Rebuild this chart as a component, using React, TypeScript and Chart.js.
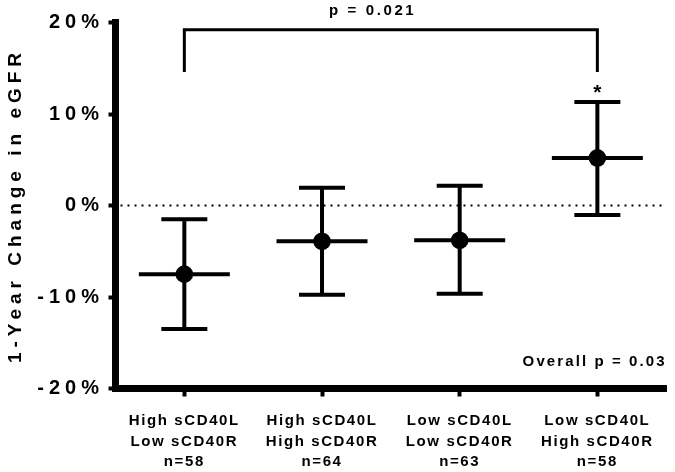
import React, { useEffect, useRef } from 'react';
import { Chart, registerables } from 'chart.js';

Chart.register(...registerables);

// ---- data ----
const categories: string[][] = [
  ['High sCD40L', 'Low sCD40R', 'n=58'],
  ['High sCD40L', 'High sCD40R', 'n=64'],
  ['Low sCD40L', 'Low sCD40R', 'n=63'],
  ['Low sCD40L', 'High sCD40R', 'n=58'],
];
const meanChange = [-7.5, -3.9, -3.8, 5.2];
const lowerBound = [-13.5, -9.75, -9.65, -1.05];
const upperBound = [-1.5, 1.95, 2.15, 11.3];
const yTickValues = [-20, -10, 0, 10, 20];
const yTitle = '1-Year Change in eGFR';
const bracketLabel = 'p = 0.021';
const starLabel = '*';
const overallLabel = 'Overall p = 0.03';

const FONT = "'Liberation Sans', Arial, Helvetica, sans-serif";

const annotations = {
  id: 'annotations',
  beforeDraw(chart: any) {
    chart.ctx.letterSpacing = '5px';
  },
  beforeDatasetsDraw(chart: any) {
    const { ctx, chartArea, scales } = chart;
    const x = scales.x;
    const y = scales.y;
    // dotted zero line
    ctx.save();
    ctx.strokeStyle = '#000';
    ctx.lineWidth = 2;
    ctx.setLineDash([2, 5]);
    const y0 = y.getPixelForValue(0);
    ctx.beginPath();
    ctx.moveTo(chartArea.left + 5, y0);
    ctx.lineTo(chartArea.right, y0);
    ctx.stroke();
    ctx.restore();
    // error bars + mean lines
    ctx.save();
    ctx.strokeStyle = '#000';
    ctx.lineWidth = 4;
    ctx.lineCap = 'butt';
    meanChange.forEach((m, i) => {
      const px = x.getPixelForValue(i);
      const yl = y.getPixelForValue(lowerBound[i]);
      const yu = y.getPixelForValue(upperBound[i]);
      const ym = y.getPixelForValue(m);
      ctx.beginPath();
      ctx.moveTo(px, yl);
      ctx.lineTo(px, yu);
      ctx.moveTo(px - 23, yl);
      ctx.lineTo(px + 23, yl);
      ctx.moveTo(px - 23, yu);
      ctx.lineTo(px + 23, yu);
      ctx.moveTo(px - 45.5, ym);
      ctx.lineTo(px + 45.5, ym);
      ctx.stroke();
    });
    ctx.restore();
  },
  afterDatasetsDraw(chart: any) {
    // x-axis labels (drawn after datasets, z = 1) use a tighter letter spacing
    chart.ctx.letterSpacing = '1.6px';
  },
  afterDraw(chart: any) {
    const { ctx, chartArea, scales } = chart;
    const x = scales.x;
    const y = scales.y;
    ctx.save();
    // bracket
    const xa = x.getPixelForValue(0);
    const xb = x.getPixelForValue(3);
    const yTop = y.getPixelForValue(19.2);
    const yEnd = y.getPixelForValue(14.6);
    ctx.strokeStyle = '#000';
    ctx.lineWidth = 3;
    ctx.lineCap = 'butt';
    ctx.lineJoin = 'miter';
    ctx.beginPath();
    ctx.moveTo(xa, yEnd);
    ctx.lineTo(xa, yTop);
    ctx.lineTo(xb, yTop);
    ctx.lineTo(xb, yEnd);
    ctx.stroke();

    ctx.fillStyle = '#000';
    ctx.font = `bold 15px ${FONT}`;
    ctx.textBaseline = 'alphabetic';
    // bracket label
    ctx.letterSpacing = '2.6px';
    ctx.textAlign = 'center';
    ctx.fillText(bracketLabel, x.getPixelForValue(1.368), y.getPixelForValue(20.82));
    // asterisk
    ctx.letterSpacing = '0px';
    ctx.font = `bold 21px ${FONT}`;
    ctx.fillText(starLabel, xb, y.getPixelForValue(11.6));
    // overall p
    ctx.font = `bold 15px ${FONT}`;
    ctx.letterSpacing = '2.1px';
    ctx.textAlign = 'right';
    ctx.fillText(overallLabel, chartArea.right + 0.5, y.getPixelForValue(-17.54));
    ctx.restore();
    ctx.letterSpacing = '0px';
  },
};

export default function App() {
  const canvasRef = useRef<HTMLCanvasElement | null>(null);

  useEffect(() => {
    const canvas = canvasRef.current;
    if (!canvas) return;
    const chart = new Chart(canvas, {
      type: 'line',
      data: {
        labels: categories,
        datasets: [
          {
            data: meanChange,
            showLine: false,
            pointRadius: 8.8,
            pointHoverRadius: 8.8,
            pointBackgroundColor: '#000',
            pointBorderColor: '#000',
            pointBorderWidth: 0,
            clip: false as any,
          },
        ],
      },
      options: {
        responsive: false,
        animation: false,
        events: [],
        layout: { padding: { top: 22.5, right: 8.5, left: 0, bottom: 0 } },
        plugins: {
          legend: { display: false },
          tooltip: { enabled: false },
          title: { display: false },
        },
        scales: {
          x: {
            type: 'category',
            offset: true,
            border: { display: true, color: '#000', width: 7, z: 1 },
            grid: {
              display: true,
              drawOnChartArea: false,
              drawTicks: true,
              tickLength: 8,
              tickWidth: 4,
              tickColor: '#000',
            },
            ticks: {
              z: 1,
              color: '#000',
              font: { family: FONT, size: 15, weight: 'bold', lineHeight: 1.367 },
              padding: 14.5,
              maxRotation: 0,
              autoSkip: false,
            },
            afterFit: (s: any) => {
              s.height = 83.5;
            },
          },
          y: {
            type: 'linear',
            min: yTickValues[0],
            max: yTickValues[yTickValues.length - 1],
            border: { display: true, color: '#000', width: 7 },
            grid: {
              display: true,
              drawOnChartArea: false,
              drawTicks: true,
              tickLength: 7,
              tickWidth: 4,
              tickColor: '#000',
            },
            afterBuildTicks: (s: any) => {
              s.ticks = yTickValues.map((v) => ({ value: v }));
            },
            ticks: {
              color: '#000',
              font: { family: FONT, size: 20, weight: 'bold' },
              padding: 4.5,
              callback: (v: any) => `${v}%`,
            },
            title: {
              display: true,
              text: yTitle,
              color: '#000',
              font: { family: FONT, size: 19, weight: 'bold' },
              padding: { top: 4, bottom: 0 },
            },
            afterFit: (s: any) => {
              s.width = 115.5;
            },
          },
        },
      },
      plugins: [annotations as any],
    });
    return () => {
      chart.destroy();
    };
  }, []);

  return (
    <div style={{ position: 'fixed', left: 0, top: 0, width: 675, height: 472, background: '#fff' }}>
      <canvas ref={canvasRef} width={675} height={472} style={{ display: 'block' }} />
    </div>
  );
}
